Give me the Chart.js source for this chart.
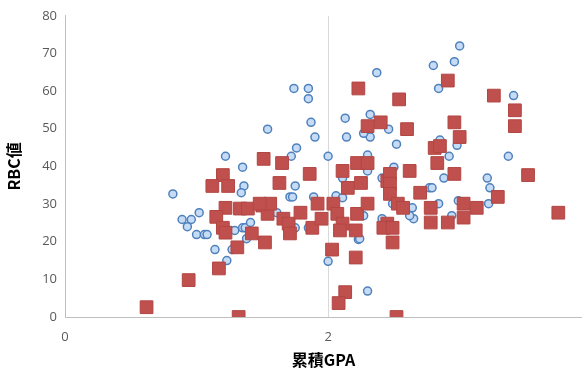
<!DOCTYPE html>
<html>
<head>
<meta charset="utf-8">
<script src="https://cdn.jsdelivr.net/npm/chart.js@4"></script>
<style>
  html, body { margin: 0; padding: 0; background: #fff; overflow: hidden; }
  #wrap { position: relative; width: 582px; height: 374px; }
</style>
</head>
<body>
<div id="wrap"><canvas id="gpa"></canvas></div>
<script>
// blue circles
var blueX = [0.82, 0.89, 0.96, 0.93, 1.02, 1.00, 1.06, 1.08, 1.14, 1.23, 1.27, 1.22, 1.35, 1.36, 1.34, 1.29,
  1.35, 1.37, 1.41, 1.38, 1.54, 1.74, 1.85, 1.85, 1.87, 1.90, 1.76, 1.72, 2.00, 2.13, 2.14, 2.32,
  2.32, 2.27, 2.37, 2.30, 2.30, 2.11, 2.41, 1.75, 1.71, 1.73, 1.89, 2.06, 2.11, 1.61, 1.75, 1.85,
  2.27, 2.23, 2.00, 2.30, 2.41, 3.00, 2.96, 2.80, 2.84, 3.41, 2.46, 2.52, 2.85, 2.98, 2.92, 3.37,
  2.50, 2.88, 3.21, 3.23, 2.77, 2.79, 2.84, 2.99, 2.64, 3.22, 2.49, 2.65, 2.62, 2.94, 2.24];
var blueY = [32.7, 25.9, 25.9, 24.0, 27.7, 21.9, 21.9, 21.9, 17.9, 15.0, 17.9, 42.7, 39.8, 34.8, 33.0, 23.0,
  23.7, 23.7, 25.1, 20.8, 49.9, 60.7, 60.7, 58.0, 51.7, 47.8, 44.9, 42.7, 42.7, 52.8, 47.8, 53.8,
  47.8, 48.8, 64.9, 43.0, 38.8, 36.9, 36.9, 34.8, 31.9, 31.9, 31.9, 32.2, 31.7, 27.7, 23.7, 23.7,
  26.9, 20.6, 14.8, 6.9, 26.1, 72.0, 67.8, 66.8, 60.7, 58.8, 49.9, 45.9, 47.0, 45.6, 42.7, 42.7,
  39.8, 36.9, 36.9, 34.3, 34.3, 34.3, 30.1, 30.9, 29.0, 30.1, 30.1, 26.1, 26.9, 26.9, 20.8];

// red squares
var redX = [0.62, 0.94, 1.17, 1.31, 1.32, 1.20, 1.12, 1.24, 1.22, 1.33, 1.39, 1.15, 1.20, 1.22, 1.42, 1.52,
  1.50, 1.54, 1.56, 1.48, 1.51, 1.65, 1.63, 1.86, 1.66, 1.70, 1.71, 1.79, 1.88, 1.92, 1.95, 2.04,
  2.07, 2.11, 2.09, 2.21, 2.22, 2.30, 2.03, 2.21, 2.13, 2.08, 2.23, 2.30, 2.40, 2.11, 2.22, 2.30,
  2.25, 2.15, 2.45, 2.45, 2.91, 3.26, 2.54, 3.42, 3.42, 2.60, 2.96, 3.00, 2.81, 2.85, 2.83, 2.62,
  2.47, 2.47, 2.47, 2.70, 2.96, 3.52, 2.53, 2.57, 2.78, 3.03, 3.13, 2.42, 2.49, 2.49, 2.78, 2.91,
  3.03, 2.52, 3.29, 3.75];
var redY = [2.6, 9.8, 12.9, 18.5, 0, 37.7, 34.8, 34.8, 29.0, 28.8, 28.8, 26.6, 23.7, 22.4, 22.2, 19.8,
  29.6, 27.4, 30.1, 30.1, 42.0, 40.9, 35.6, 38.0, 26.1, 24.8, 22.2, 27.7, 23.7, 30.1, 26.1, 30.1,
  27.4, 24.8, 23.0, 23.0, 27.4, 30.1, 17.9, 15.8, 6.6, 3.7, 60.7, 50.7, 51.7, 38.8, 40.9, 40.9,
  35.6, 34.3, 36.1, 24.8, 62.8, 58.8, 57.8, 54.9, 50.7, 49.9, 51.7, 47.8, 44.9, 45.4, 40.9, 38.8,
  38.0, 35.4, 32.7, 33.0, 38.0, 37.7, 30.1, 29.0, 29.0, 30.1, 29.0, 23.7, 23.7, 19.8, 25.1, 25.1,
  26.4, 0, 31.9, 27.7];

var yTicks = [0, 10, 20, 30, 40, 50, 60, 70, 80];
var xTicks = [0, 2];

function pts(xs, ys) {
  return xs.map(function (x, i) { return { x: x, y: ys[i] }; });
}

var tickFont = { family: "'Open Sans', 'Noto Sans', sans-serif", size: 13 };
var titleFont = { family: "'Noto Sans CJK JP', sans-serif", size: 16, weight: "bold" };

var ctx = document.getElementById("gpa").getContext("2d");
var gpaChart = new Chart(ctx, {
  type: "scatter",
  data: {
    datasets: [
      {
        data: pts(redX, redY),
        order: 1,
        pointStyle: "rect",
        pointRadius: 9,
        pointHoverRadius: 9,
        backgroundColor: "#c0504d",
        borderColor: "#b24643",
        borderWidth: 1,
      },
      {
        data: pts(blueX, blueY),
        order: 2,
        pointStyle: "circle",
        pointRadius: 4,
        pointHoverRadius: 4,
        backgroundColor: "#c6dcf6",
        borderColor: "#4f81bd",
        borderWidth: 1.5,
      },
    ],
  },
  options: {
    responsive: true,
    maintainAspectRatio: false,
    animation: false,
    layout: { autoPadding: false, padding: { top: 14, right: 0, left: 0, bottom: 0 } },
    plugins: { legend: { display: false }, tooltip: { enabled: false } },
    scales: {
      x: {
        type: "linear",
        min: 0,
        max: 3.93,
        afterBuildTicks: function (s) {
          s.ticks = xTicks.map(function (v) { return { value: v }; });
        },
        afterFit: function (s) {
          s.height = 57;
          s.paddingLeft = 0;
          s.paddingRight = 0;
        },
        grid: { display: true, color: "#d9d9d9", drawTicks: false },
        border: { display: true, color: "#bfbfbf" },
        ticks: { color: "#595959", font: tickFont, padding: 12 },
        title: { display: true, text: "累積GPA", color: "#000", font: titleFont, padding: { top: 2 } },
      },
      y: {
        min: 0,
        max: 80,
        afterBuildTicks: function (s) {
          s.ticks = yTicks.map(function (v) { return { value: v }; });
        },
        afterFit: function (s) { s.width = 65; },
        grid: { display: false, drawTicks: false },
        border: { display: true, color: "#bfbfbf" },
        ticks: { color: "#595959", font: tickFont, padding: 8 },
        title: { display: true, text: "RBC値", color: "#000", font: titleFont, padding: { bottom: 4 } },
      },
    },
  },
});
</script>
</body>
</html>
